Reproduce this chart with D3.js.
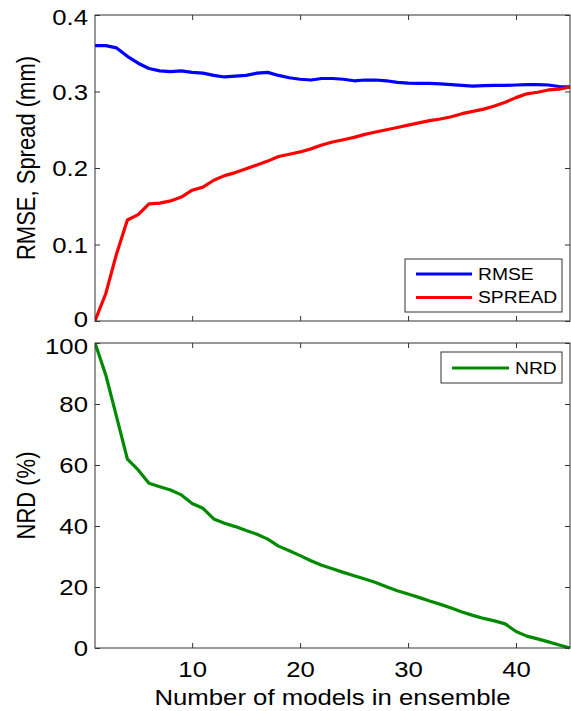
<!DOCTYPE html>
<html>
<head>
<meta charset="utf-8">
<script src="https://cdn.jsdelivr.net/npm/d3@7"></script>
<style>
  html, body { margin: 0; padding: 0; background: #fff; }
  svg { display: block; }
  text { font-family: "Liberation Sans", Arial, sans-serif; fill: #000; }
</style>
</head>
<body>
<svg id="chart" width="571" height="711"></svg>
<script>
// ---- data ----
const models = d3.range(1, 46);
const rmse = [0.360, 0.360, 0.357, 0.346, 0.337, 0.330, 0.327, 0.326, 0.327, 0.325,
              0.324, 0.321, 0.319, 0.320, 0.321, 0.324, 0.325, 0.321, 0.318, 0.316,
              0.315, 0.317, 0.317, 0.316, 0.314, 0.315, 0.315, 0.314, 0.312, 0.311,
              0.3105, 0.3105, 0.310, 0.309, 0.308, 0.307, 0.3076, 0.308, 0.308, 0.3085,
              0.309, 0.309, 0.3085, 0.3065, 0.306];
const spread = [0.000, 0.036, 0.088, 0.132, 0.139, 0.153, 0.154, 0.157, 0.162, 0.171,
                0.175, 0.184, 0.190, 0.194, 0.199, 0.204, 0.209, 0.215, 0.218, 0.221,
                0.225, 0.230, 0.234, 0.237, 0.240, 0.244, 0.247, 0.250, 0.253, 0.256,
                0.259, 0.262, 0.264, 0.267, 0.271, 0.274, 0.277, 0.281, 0.286, 0.292,
                0.297, 0.299, 0.302, 0.303, 0.306];
const nrd = [100, 89.5, 75.8, 61.9, 58.4, 54.0, 52.9, 51.8, 50.2, 47.4,
             45.8, 42.3, 40.9, 39.8, 38.5, 37.3, 35.7, 33.4, 31.9, 30.3,
             28.6, 27.1, 26.0, 24.8, 23.7, 22.6, 21.5, 20.1, 18.8, 17.7,
             16.6, 15.4, 14.3, 13.1, 11.8, 10.7, 9.7, 8.9, 7.9, 5.4,
             3.9, 3.0, 2.0, 1.0, 0.0];
const xTicks = [10, 20, 30, 40];
const topYTicks = [0, 0.1, 0.2, 0.3, 0.4];
const botYTicks = [0, 20, 40, 60, 80, 100];
const topSeries = [
  { name: "RMSE", values: rmse, color: "#0000ff" },
  { name: "SPREAD", values: spread, color: "#ff0000" }
];
const botSeries = [
  { name: "NRD", values: nrd, color: "#008a00" }
];

// ---- layout ----
const SX = 1.17;          // horizontal text stretch of the original image
const FS = 22;            // font size
const frameColor = "#333";
const left = 95, right = 570;
const topPanel = { top: 15, bottom: 321 };
const botPanel = { top: 343, bottom: 648 };

const svg = d3.select("#chart");
const x = d3.scaleLinear().domain([1, 45]).range([left, right]);
const yTop = d3.scaleLinear().domain([0, 0.4]).range([topPanel.bottom, topPanel.top]);
const yBot = d3.scaleLinear().domain([0, 100]).range([botPanel.bottom, botPanel.top]);

function styleAxis(g) {
  g.select(".domain").remove();
  g.selectAll(".tick line").attr("stroke", frameColor);
  g.selectAll("text").attr("font-size", FS).attr("font-family", "Liberation Sans, Arial, sans-serif")
   .attr("fill", "#000");
}

function panel(yScale, yTicks, fmt, p, series, showX, yShift) {
  const g = svg.append("g");
  // left axis with labels
  g.append("g").attr("transform", `translate(${left},0)`)
    .call(d3.axisLeft(yScale).tickValues(yTicks).tickFormat(fmt).tickSizeInner(-5).tickSizeOuter(0).tickPadding(6))
    .call(styleAxis)
    .call(a => a.selectAll("text").attr("transform", `scale(${SX},1)`).attr("dy", "0.36em")
      .attr("y", d => yShift(d)));
  // right ticks
  g.append("g").attr("transform", `translate(${right},0)`)
    .call(d3.axisRight(yScale).tickValues(yTicks).tickFormat("").tickSizeInner(-5).tickSizeOuter(0))
    .call(styleAxis);
  // top ticks
  g.append("g").attr("transform", `translate(0,${p.top})`)
    .call(d3.axisTop(x).tickValues(xTicks).tickFormat("").tickSizeInner(-5).tickSizeOuter(0))
    .call(styleAxis);
  // bottom ticks
  const bx = g.append("g").attr("transform", `translate(0,${p.bottom})`)
    .call(d3.axisBottom(x).tickValues(xTicks).tickFormat(showX ? d3.format("d") : "").tickSizeInner(-5).tickSizeOuter(0).tickPadding(13.5))
    .call(styleAxis);
  if (showX) bx.selectAll("text").attr("transform", `scale(${SX},1)`);

  // lines
  const line = d3.line().x((d, i) => x(models[i])).y(d => yScale(d));
  const clipId = "clip" + p.top;
  g.append("clipPath").attr("id", clipId).append("rect")
    .attr("x", left).attr("y", p.top - 2).attr("width", right - left + 2).attr("height", p.bottom - p.top + 4);
  series.forEach(s => {
    g.append("path").datum(s.values)
      .attr("d", line).attr("fill", "none").attr("stroke", s.color)
      .attr("stroke-width", 3.2).attr("stroke-linejoin", "round")
      .attr("clip-path", `url(#${clipId})`);
  });

  // frame
  g.append("rect").attr("x", left).attr("y", p.top)
    .attr("width", right - left).attr("height", p.bottom - p.top)
    .attr("fill", "none").attr("stroke", frameColor).attr("stroke-width", 1);
  return g;
}

panel(yTop, topYTicks, d => d === 0 ? "0" : d3.format(".1f")(d), topPanel, topSeries, false,
      d => d === 0 ? -2 : (d === 0.4 ? 2 : 0));
panel(yBot, botYTicks, d3.format("d"), botPanel, botSeries, true,
      d => d === 100 ? 2.5 : 0);

// legends
function legend(series, box) {
  const g = svg.append("g");
  g.append("rect").attr("x", box.x).attr("y", box.y).attr("width", box.w).attr("height", box.h)
    .attr("fill", "#fff").attr("stroke", frameColor).attr("stroke-width", 1);
  series.forEach((s, i) => {
    const yy = box.y + box.first + i * box.step;
    g.append("line").attr("x1", box.lx1).attr("x2", box.lx2).attr("y1", yy).attr("y2", yy)
      .attr("stroke", s.color).attr("stroke-width", 3.2);
    g.append("text").attr("transform", `translate(${box.tx},${yy}) scale(${SX},1)`)
      .attr("dy", "0.36em").attr("font-size", 16.5).text(s.name);
  });
}
legend(topSeries, { x: 405, y: 259, w: 157, h: 53, first: 15, step: 23.5, lx1: 416, lx2: 472, tx: 478 });
legend(botSeries, { x: 441, y: 352, w: 121, h: 31, first: 16, step: 0, lx1: 452, lx2: 509, tx: 515 });

// axis titles
svg.append("text").attr("text-anchor", "middle").attr("font-size", FS)
  .attr("transform", `translate(${(left + right) / 2},705) scale(${SX},1)`)
  .text("Number of models in ensemble");
svg.append("text").attr("text-anchor", "middle").attr("font-size", FS)
  .attr("transform", `translate(35,158) scale(${SX},1) rotate(-90)`)
  .text("RMSE, Spread (mm)");
svg.append("text").attr("text-anchor", "middle").attr("font-size", FS)
  .attr("transform", `translate(35,${(botPanel.top + botPanel.bottom) / 2}) scale(${SX},1) rotate(-90)`)
  .text("NRD (%)");
</script>
</body>
</html>
